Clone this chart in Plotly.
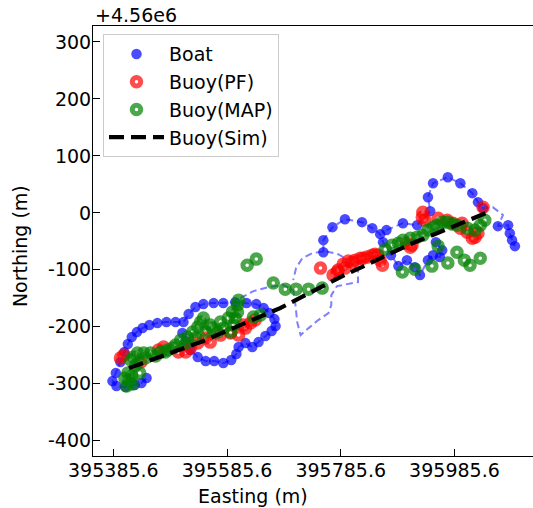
import plotly.graph_objects as go

# Boat GPS track: easting (m) and northing (m, relative to 4.56e6).
# None splits the track into separate segments; boat_seen marks fixes drawn as dots.
boat_e = [
    395507, 395513, 395521, 395534, 395548, 395563, 395579, 395593, 395602, 395606,
    395618, 395630, 395641, 395653, 395664, 395671, 395669, 395660, 395650, 395637,
    395620, 395600, 395579, 395562, 395544, 395530, 395518, 395509, 395495, 395479,
    395463, 395449, 395437, 395427, 395418, 395411, 395405, 395398, 395390, 395384,
    395391, 395407, 395423, 395435, 395444,
    None,
    395609, 395632, 395658, 395685, 395702, 395706, 395709, 395715, 395729, 395746,
    395764, 395769, 395769, 395779, 395797, 395816, 395816, 395802, 395781, 395758,
    395736, 395718, 395707, 395702,
    None,
    395755, 395755, 395771, 395793, 395823, 395841, 395855, 395860, 395874, 395887,
    395902, 395916, 395925, 395939, 395948, 395960, 395964, 395953,
    None,
    395866, 395895, 395920, 395943, 395939, 395948, 395974, 395996, 396017, 396027,
    396036, 396053, 396071, 396062, 396080, 396083, 396087, 396092,
]
boat_n = [
    -211.0, -225.1, -240.9, -253.2, -260.2, -260.2, -263.7, -258.4, -247.9, -235.6,
    -228.6, -235.6, -226.9, -216.3, -207.5, -198.8, -186.5, -176.0, -167.2, -160.2,
    -158.4, -156.7, -158.4, -158.4, -160.2, -165.4, -177.7, -191.8, -191.8, -191.8,
    -193.5, -197.0, -202.3, -209.3, -218.1, -230.4, -244.4, -261.9, -281.2, -295.3,
    -304.0, -305.8, -302.2, -298.7, -289.9,
    None,
    -149.7, -137.4, -130.4, -126.8, -135.6, -161.9, -191.8, -214.6, -202.3, -188.2,
    -176.0, -161.9, -144.4, -128.6, -125.1, -121.6, -100.5, -84.7, -72.5, -67.2,
    -70.7, -79.5, -97.0, -118.1,
    None,
    -69.0, -47.9, -25.1, -11.1, -16.3, -26.8, -37.4, -51.4, -74.2, -93.5,
    -83.0, -95.3, -109.3, -83.0, -74.2, -77.7, -65.5, -51.4,
    None,
    -30.3, -18.1, -21.6, 3.0, 27.5, 52.1, 62.6, 52.1, 34.6, 18.8,
    8.2, 10.0, -4.0, -23.3, -21.6, -35.6, -47.9, -58.4,
]
boat_seen = (
    [1] * 45 + [0]
    + [0] * 24 + [0]
    + [1] * 18 + [0]
    + [1] * 11 + [0, 0] + [1] * 5
)

# Buoy position estimated by the particle filter
pf_e = [
    395404, 395434, 395465, 395474, 395513, 395521, 395534, 395548, 395574, 395592,
    395606, 395614, 395627, 395750, 395779, 395781, 395790, 395799, 395811, 395820,
    395832, 395841, 395851, 395855, 395859, 395902, 395908, 395911, 395929, 395930,
    395934, 395957, 395973, 395983, 395999, 396008, 396022, 396027, 396036,
    395398, 395500, 395556, 395618, 395635, 395772, 395806, 395825, 395846, 395793,
    395996, 396017,
]
pf_n = [
    -249.6, -261.9, -240.9, -235.6, -244.4, -237.4, -228.6, -219.8, -214.6, -211.0,
    -214.6, -197.0, -193.5, -97.0, -104.0, -100.5, -90.0, -84.7, -83.0, -79.5,
    -77.7, -74.2, -74.2, -83.0, -91.8, -53.2, -60.2, -56.7, -7.5, 1.2,
    -12.8, -9.3, -12.8, -18.1, -18.1, -33.9, -42.6, -35.6, 10.0,
    -254.9, -244.4, -226.9, -202.3, -188.2, -109.3, -86.5, -79.5, -72.5, -97.0,
    -26.8, -44.4,
]

# Buoy position estimated by MAP
map_e = [
    395411, 395413, 395418, 395432, 395416, 395421, 395428, 395439, 395451, 395469,
    395481, 395495, 395504, 395516, 395525, 395534, 395539, 395544, 395556, 395569,
    395579, 395592, 395597, 395600, 395604, 395604, 395632, 395644, 395621, 395637,
    395667, 395688, 395707, 395729, 395753, 395876, 395887, 395895, 395908, 395920,
    395930, 395939, 395948, 395964, 395973, 395990, 396008, 396022, 396031, 395957,
    395894, 395916, 395946, 395974, 395990, 396003, 396013, 396031, 395406, 395419,
    395409, 395425, 395442, 395460, 395477, 395490, 395513, 395530, 395548, 395560,
    395574, 395588, 395595, 395606, 395864, 395955, 395981, 396039,
]
map_n = [
    -281.2, -293.4, -286.4, -281.2, -258.4, -253.2, -246.1, -246.1, -246.1, -244.4,
    -240.9, -232.1, -223.4, -218.1, -209.3, -200.5, -191.8, -184.7, -197.0, -209.3,
    -202.3, -209.3, -197.0, -184.7, -174.2, -161.9, -183.0, -179.5, -91.8, -81.2,
    -123.3, -133.9, -133.9, -133.9, -132.1, -56.7, -53.2, -47.9, -44.4, -42.6,
    -39.1, -30.3, -25.1, -16.3, -16.3, -21.6, -26.8, -30.3, -21.6, -58.4,
    -104.0, -98.8, -93.5, -88.2, -69.0, -83.0, -91.8, -79.5, -289.9, -300.5,
    -304.0, -267.2, -254.9, -251.4, -244.4, -237.4, -228.6, -219.8, -209.3, -202.3,
    -191.8, -184.7, -174.2, -153.2, -63.7, -21.6, -19.5, -12.8,
]

# Simulated buoy drift
sim_e = [395413, 395539, 395679, 395785, 395908, 396045]
sim_n = [-272.5, -226.9, -167.2, -112.8, -54.9, 1.2]

x_ticks = [395385.6, 395585.6, 395785.6, 395985.6]
x_ticktext = ["395385.6", "395585.6", "395785.6", "395985.6"]
y_ticks = [-400, -300, -200, -100, 0, 100, 200, 300]

FONT = "DejaVu Sans"
FS = 19

seen_e = [e for e, s in zip(boat_e, boat_seen) if s and e is not None]
seen_n = [n for n, s in zip(boat_n, boat_seen) if s and n is not None]

fig = go.Figure()

# full boat track as a faint dashed line
fig.add_trace(go.Scatter(
    x=boat_e, y=boat_n, mode="lines", showlegend=False, hoverinfo="skip",
    line=dict(color="rgba(0,0,255,0.5)", width=2, dash="7px,4px"),
    connectgaps=False,
))
fig.add_trace(go.Scatter(
    x=seen_e, y=seen_n, mode="markers", name="Boat",
    marker=dict(size=10.5, color="rgba(0,0,255,0.7)", line=dict(width=0)),
))
fig.add_trace(go.Scatter(
    x=pf_e, y=pf_n, mode="markers", name="Buoy(PF)",
    marker=dict(symbol="circle-open", size=8.5, color="rgba(255,0,0,0.7)",
                line=dict(width=5)),
))
fig.add_trace(go.Scatter(
    x=map_e, y=map_n, mode="markers", name="Buoy(MAP)",
    marker=dict(symbol="circle-open", size=8.5, color="rgba(0,128,0,0.7)",
                line=dict(width=5)),
))
fig.add_trace(go.Scatter(
    x=sim_e, y=sim_n, mode="lines", name="Buoy(Sim)",
    line=dict(color="black", width=4.2, dash="15px,7px"),
))

axis_common = dict(
    showgrid=False, zeroline=False, showline=True, linecolor="black", linewidth=1.1,
    ticks="inside", ticklen=7, tickwidth=1.1, tickcolor="black",
    tickfont=dict(family=FONT, size=FS, color="black"),
    ticklabelstandoff=-3,
)
fig.update_xaxes(
    range=[395349.8, 396123.8], tickvals=x_ticks, ticktext=x_ticktext,
    mirror=True, **axis_common,
)
fig.update_yaxes(
    range=[-426.8, 328.0], tickvals=y_ticks, ticktext=[str(v) for v in y_ticks],
    **axis_common,
)

fig.update_layout(
    width=533, height=508,
    margin=dict(l=93, r=0, t=26, b=52),
    paper_bgcolor="white", plot_bgcolor="white",
    font=dict(family=FONT, size=FS, color="black"),
    legend=dict(
        x=0.0227, y=0.981, xanchor="left", yanchor="top",
        bgcolor="rgba(255,255,255,0.8)", bordercolor="#cccccc", borderwidth=1,
        itemwidth=55,
        font=dict(family=FONT, size=FS, color="black"),
    ),
    annotations=[
        dict(text="+4.56e6", xref="paper", yref="paper", x=0.0, y=1.0256,
             xanchor="left", yanchor="middle", showarrow=False,
             font=dict(family=FONT, size=FS)),
        dict(text="Easting (m)", xref="paper", yref="paper", x=0.363, y=-0.093,
             xanchor="center", yanchor="middle", showarrow=False,
             font=dict(family=FONT, size=FS)),
        dict(text="Northing (m)", xref="paper", yref="paper", x=-0.166, y=0.488,
             xanchor="center", yanchor="middle", showarrow=False, textangle=-90,
             font=dict(family=FONT, size=FS)),
    ],
)

fig.write_html("out.html")
